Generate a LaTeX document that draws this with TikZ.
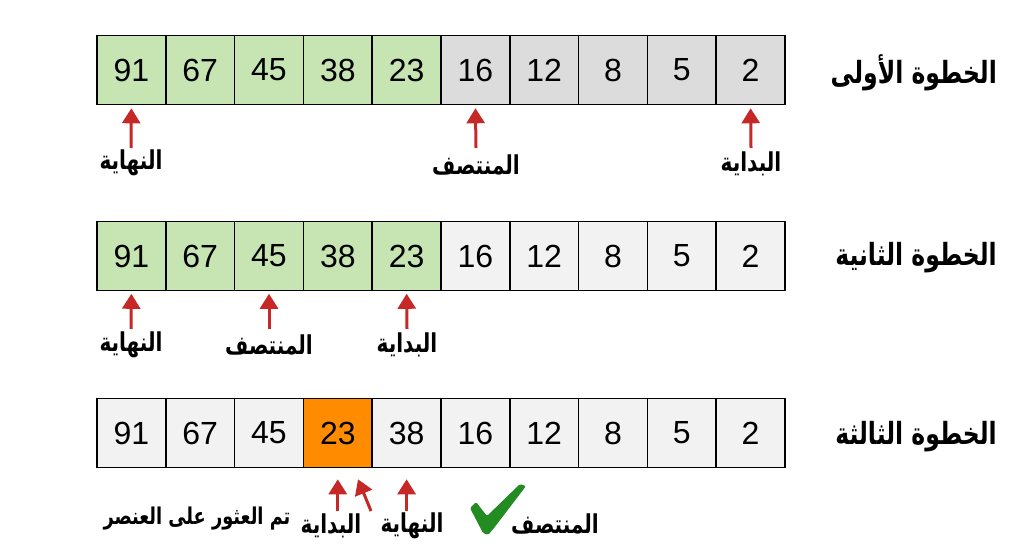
\documentclass[tikz,border=0pt]{standalone}
\usepackage{graphicx}
\usepackage{fontspec}
\setmainfont{Liberation Sans}
\newfontfamily\arabicfont[Script=Arabic]{DejaVu Sans}
\TeXXeTstate=1
\usetikzlibrary{arrows.meta}
\definecolor{cgreen}{HTML}{C6E5B3}
\definecolor{cgray}{HTML}{DCDCDC}
\definecolor{clight}{HTML}{F2F2F2}
\definecolor{corange}{HTML}{FF8C00}
\definecolor{cred}{HTML}{C62828}
\definecolor{ccheck}{HTML}{228B22}
\newcommand\artxt[1]{\scalebox{1}[1.3]{\beginR #1\endR}}
\begin{document}
\begin{tikzpicture}[x=1pt,y=-1pt,
  cell/.style={draw=black, line width=1.6pt, minimum width=68.8pt, minimum height=69pt, inner sep=0pt, font=\fontsize{32}{34}\selectfont},
  lab/.style={font=\arabicfont\bfseries\fontsize{20}{22}\selectfont, inner sep=0pt},
  steplab/.style={font=\arabicfont\bfseries\fontsize{23.5}{26}\selectfont, inner sep=0pt, anchor=east},
  redarr/.style={draw=cred, line width=3pt, -{Triangle[width=18pt,length=15pt]}}]
\useasboundingbox[fill=white] (0,0) rectangle (1024,559);
% row 1
\foreach \v [count=\i] in {91,67,45,38,23,16,12,8,5,2} {
  \ifnum\i<6 \def\cc{cgreen}\else\def\cc{cgray}\fi
  \node[cell, fill=\cc] (r1c\i) at ({97+68.8*(\i-0.5)},70) {\v};
}
% row 2
\foreach \v [count=\i] in {91,67,45,38,23,16,12,8,5,2} {
  \ifnum\i<6 \def\cc{cgreen}\else\def\cc{clight}\fi
  \node[cell, fill=\cc] (r2c\i) at ({97+68.8*(\i-0.5)},256) {\v};
}
% row 3
\foreach \v [count=\i] in {91,67,45,23,38,16,12,8,5,2} {
  \ifnum\i=4 \def\cc{corange}\else\def\cc{clight}\fi
  \node[cell, fill=\cc] (r3c\i) at ({97+68.8*(\i-0.5)},433) {\v};
}
% step labels
\node[steplab] (s1) at (997,73) {\artxt{الخطوة الأولى}};
\node[steplab] (s2) at (997,258) {\artxt{الخطوة الثانية}};
\node[steplab] (s3) at (997,437) {\artxt{الخطوة الثالثة}};
% row 1 labels and arrows
\node[lab] (l1a) at (131,163) {\artxt{النهاية}};
\node[lab] (l1b) at (476,165) {\artxt{المنتصف}};
\node[lab] (l1c) at (751,164) {\artxt{البداية}};
\coordinate (t1a) at (131,148);
\coordinate (t1b) at (476,148);
\coordinate (t1c) at (751,148);
\draw[redarr, shorten >=3pt] (t1a) -- (r1c1.south);
\draw[redarr, shorten >=3pt] (t1b) -- (r1c6.south);
\draw[redarr, shorten >=3pt] (t1c) -- (r1c10.south);
% row 2 labels and arrows
\node[lab] (l2a) at (131,345) {\artxt{النهاية}};
\node[lab] (l2b) at (269,345) {\artxt{المنتصف}};
\node[lab] (l2c) at (407,345) {\artxt{البداية}};
\coordinate (t2a) at (131,329);
\coordinate (t2b) at (269,329);
\coordinate (t2c) at (407,329);
\draw[redarr, shorten >=2.5pt] (t2a) -- (r2c1.south);
\draw[redarr, shorten >=2.5pt] (t2b) -- (r2c3.south);
\draw[redarr, shorten >=2.5pt] (t2c) -- (r2c5.south);
% row 3 labels and arrows
\node[lab, font=\arabicfont\bfseries\fontsize{17.8}{20}\selectfont] (l3f) at (197,519) {\artxt{تم العثور على العنصر}};
\node[lab] (l3a) at (331,526) {\artxt{البداية}};
\node[lab] (l3c) at (412,526) {\artxt{النهاية}};
\node[lab] (l3b) at (555,524) {\artxt{المنتصف}};
\coordinate (t3a) at (337.8,511);
\coordinate (t3b) at (371,511);
\coordinate (t3c) at (406.6,511);
\draw[redarr, shorten >=11pt] (t3a) -- (r3c4.south);
\draw[redarr] (t3b) -- ([xshift=-15pt,yshift=-11pt]r3c4.south east);
\draw[redarr, shorten >=11pt] (t3c) -- (r3c5.south);
% check mark
\fill[ccheck, rounded corners=1.5pt] (470,508) -- (476,502) -- (487,516) -- (520,484) -- (526,486) -- (494,528) -- (488,535) -- (483,533) -- cycle;
\end{tikzpicture}
\end{document}
